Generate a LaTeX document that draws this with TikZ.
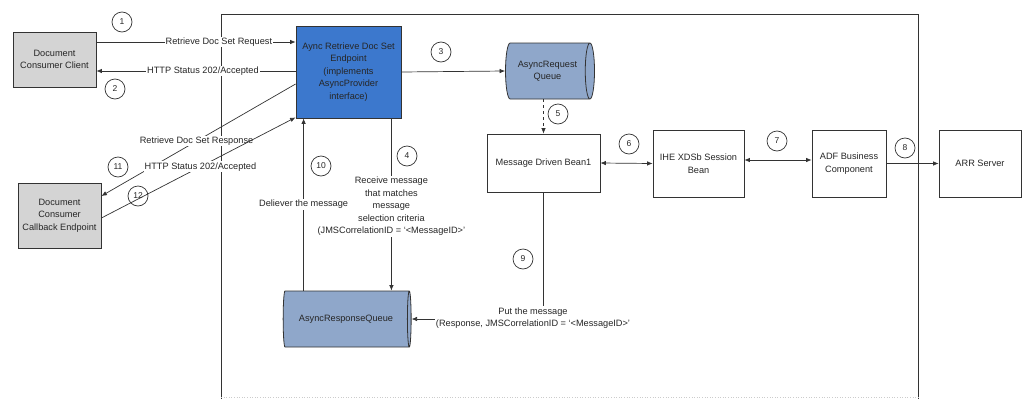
\documentclass[tikz,border=0pt]{standalone}
\usepackage{fontspec}
\setmainfont{Liberation Sans}
\usetikzlibrary{shapes.geometric,arrows.meta,calc}
\definecolor{blueep}{HTML}{3C78CD}
\definecolor{queuec}{HTML}{8FA7CA}
\definecolor{grayc}{HTML}{D4D4D4}
\definecolor{linec}{HTML}{333333}
\begin{document}
\begin{tikzpicture}[x=1pt,y=-1pt,
  every node/.style={font=\fontsize{9.2}{12.5}\selectfont, text=black!85},
  box/.style={draw=linec, line width=0.8pt, align=center, inner sep=0pt},
  graybox/.style={box, fill=grayc},
  queue/.style={cylinder, draw=linec, line width=0.8pt, fill=queuec, aspect=0.45, inner sep=0pt, align=center, minimum width=56pt},
  conn/.style={draw=linec, line width=0.7pt},
  arw/.style={conn, -{Latex[length=5.5pt,width=4.5pt]}},
  darw/.style={conn, {Latex[length=5.5pt,width=4.5pt]}-{Latex[length=5.5pt,width=4.5pt]}},
  num/.style={circle, draw=linec, line width=0.7pt, minimum size=20pt, inner sep=0pt, font=\fontsize{8.5}{10}\selectfont},
  lbl/.style={fill=white, inner sep=1pt, align=center}
]
\useasboundingbox (0,0) rectangle (1027,399);
% frame
\draw[linec, line width=0.8pt] (221,399) -- (221,14) -- (918,14) -- (918,399);
\draw[gray!40, dotted, line width=0.6pt] (221,397) -- (918,397);

% nodes
\node[graybox, minimum width=83pt, minimum height=55pt] (client) at (54.5,59.5) {Document\\Consumer Client};
\node[graybox, minimum width=83pt, minimum height=65pt] (callback) at (59.5,215.5) {Document\\Consumer\\Callback Endpoint};
\node[box, fill=blueep, minimum width=105pt, minimum height=92pt] (blue) at (348.5,72) {Aync Retrieve Doc Set\\Endpoint\\(implements\\AsyncProvider\\interface)};
\node[queue, minimum height=89pt] (areq) at (547.5,71) {AsyncRequest\\Queue};
\node[queue, minimum height=128pt] (aresp) at (346,319) {AsyncResponseQueue};
\node[box, minimum width=113pt, minimum height=58pt] (mdb) at (543.5,163) {Message Driven Bean1};
\node[box, minimum width=91pt, minimum height=67pt] (ihe) at (698.5,163.5) {IHE XDSb Session\\Bean};
\node[box, minimum width=74pt, minimum height=67pt] (adf) at (849,163.5) {ADF Business\\Component};
\node[box, minimum width=82pt, minimum height=67pt] (arrsrv) at (980,163.5) {ARR Server};
\node[lbl] (putlbl) at (533,318) {Put the message\\(Response, JMSCorrelationID = `<MessageID>'};

% connectors
\draw[arw] ([yshift=17.5pt]client.east) -- ([yshift=17.5pt]client.east -| blue.west) node[lbl,pos=0.615]{Retrieve Doc Set Request};
\draw[arw] ([yshift=-11.5pt]client.east -| blue.west) -- ([yshift=-11.5pt]client.east) node[lbl,pos=0.465]{HTTP Status 202/Accepted};
\draw[arw] (blue.east) -- (areq.west);
\draw[arw] ([xshift=-10pt]blue.south east) -- ([xshift=-10pt]blue.south east |- aresp.north) node[lbl,pos=0.51]{Receive message\\that matches\\message\\selection criteria\\(JMSCorrelationID = `<MessageID>'};
\draw[conn, dashed, -{Latex[length=5.5pt,width=4.5pt]}] (mdb.north |- areq.south) -- (mdb.north);
\draw[darw] (mdb.east) -- (ihe.west);
\draw[darw] ([yshift=3.5pt]ihe.east) -- ([yshift=3.5pt]adf.west);
\draw[arw] (adf.east) -- (arrsrv.west);
\draw[conn] (mdb.south) -- (mdb.south |- putlbl.north);
\draw[arw] (putlbl.west |- aresp.east) -- (aresp.east);
\draw[arw] ([xshift=8pt]blue.south west |- aresp.north) -- ([xshift=8pt]blue.south west) node[lbl,pos=0.5]{Deliever the message};
\draw[arw] ([yshift=-12pt]blue.west) -- ([yshift=19.5pt]callback.east) node[lbl,pos=0.51]{Retrieve Doc Set Response};
\draw[arw] ([yshift=-2.5pt]callback.east) -- ([yshift=1pt]blue.south west) node[lbl,pos=0.51]{HTTP Status 202/Accepted};

% step numbers
\node[num] (n1) at (122,22) {1};
\node[num] (n2) at (115,89) {2};
\node[num] (n3) at (441,52) {3};
\node[num] (n4) at (407,156) {4};
\node[num] (n5) at (558,114) {5};
\node[num] (n6) at (629,144) {6};
\node[num] (n7) at (777,141) {7};
\node[num] (n8) at (905,148) {8};
\node[num] (n9) at (523,259) {9};
\node[num] (n10) at (321,166) {10};
\node[num] (n11) at (118,167) {11};
\node[num] (n12) at (138,196) {12};
\end{tikzpicture}
\end{document}
